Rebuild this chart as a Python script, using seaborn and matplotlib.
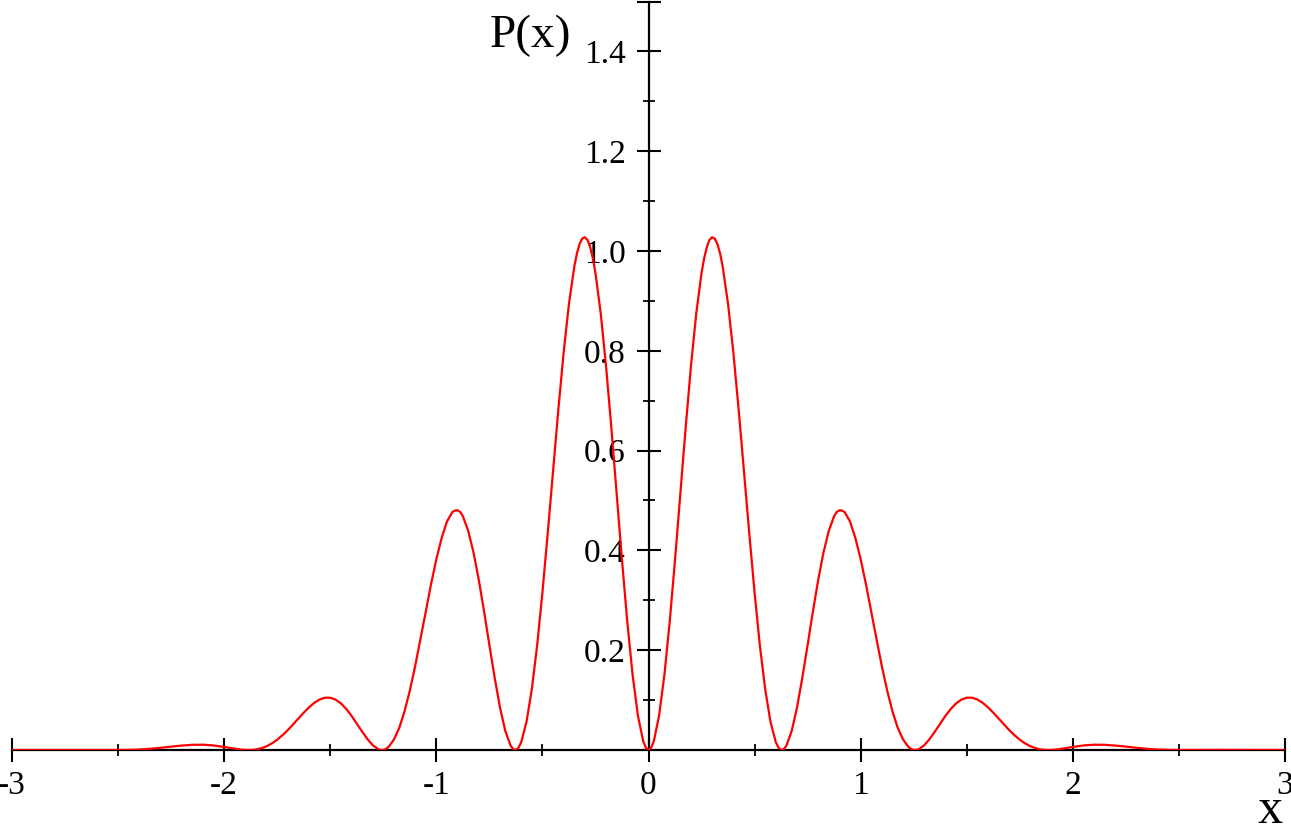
import numpy as np
import pandas as pd
import matplotlib
matplotlib.use('Agg')
from matplotlib import pyplot as plt
from matplotlib.ticker import MultipleLocator, FixedLocator
import seaborn as sns

# curve, right half (the curve is symmetric about x = 0)
x_half = [0.0, 0.0125, 0.025, 0.05, 0.075, 0.1, 0.125, 0.15, 0.175, 0.2, 0.225,
          0.25, 0.2625, 0.275, 0.2875, 0.3, 0.3125, 0.325, 0.3375, 0.35, 0.375,
          0.4, 0.425, 0.45, 0.475,
          0.5, 0.525, 0.55, 0.575, 0.6, 0.6125, 0.625, 0.6375, 0.65, 0.675, 0.7, 0.725,
          0.75, 0.775, 0.8, 0.825, 0.85, 0.875, 0.8875, 0.9, 0.9125, 0.925, 0.95, 0.975,
          1.0, 1.025, 1.05, 1.075, 1.1, 1.125, 1.15, 1.175, 1.2, 1.225,
          1.2375, 1.25, 1.2625, 1.275, 1.3, 1.325, 1.35, 1.375, 1.4, 1.425, 1.45, 1.475,
          1.5, 1.525, 1.55, 1.575, 1.6, 1.625, 1.65, 1.675, 1.7, 1.725,
          1.75, 1.775, 1.8, 1.825, 1.85, 1.875, 1.9, 1.925, 1.95, 1.975,
          2.0, 2.05, 2.1, 2.15, 2.2, 2.25, 2.3, 2.35, 2.4, 2.45,
          2.5, 2.6, 2.7, 2.8, 2.9, 3.0]
p_half = [0.0, 0.0044, 0.0176, 0.0690, 0.1508, 0.2571, 0.3808, 0.5133, 0.6456, 0.7688, 0.8745,
          0.9560, 0.9858, 1.0081, 1.0223, 1.0276, 1.0248, 1.0137, 0.9950, 0.9681, 0.8937,
          0.7962, 0.6819, 0.5587, 0.4342,
          0.3152, 0.2091, 0.1217, 0.0564, 0.0157, 0.0048, 0.0002, 0.0016, 0.0087, 0.0382, 0.0852, 0.1448,
          0.2104, 0.2779, 0.3413, 0.3962, 0.4395, 0.4686, 0.4771, 0.4803, 0.4799, 0.4766, 0.4577, 0.4248,
          0.3822, 0.3321, 0.2768, 0.2217, 0.1677, 0.1189, 0.0772, 0.0440, 0.0209, 0.0062,
          0.0022, 0.0003, 0.0002, 0.0019, 0.0097, 0.0220, 0.0370, 0.0529, 0.0687, 0.0825, 0.0935, 0.1010,
          0.1048, 0.1048, 0.1012, 0.0946, 0.0855, 0.0748, 0.0632, 0.0514, 0.0400, 0.0297,
          0.0206, 0.0132, 0.0075, 0.0035, 0.0011, 0.0001, 0.0002, 0.0011, 0.0026, 0.0043,
          0.0061, 0.0091, 0.0106, 0.0104, 0.0089, 0.0068, 0.0044, 0.0024, 0.0010, 0.0003,
          0.0, 0.0002, 0.0002, 0.0001, 0.0, 0.0]

x_ticks = [-3, -2, -1, 0, 1, 2, 3]
y_ticks = [0.2, 0.4, 0.6, 0.8, 1.0, 1.2, 1.4]
y_tick_labels = ['0.2', '0.4', '0.6', '0.8', '1.0', '1.2', '1.4']

# mirror to get the full curve
xs = [-v for v in x_half[::-1]] + x_half[1:]
ps = p_half[::-1] + p_half[1:]
df = pd.DataFrame({'x': xs, 'P': ps})

sns.set_style('white')
plt.rcParams['font.family'] = ['Liberation Serif', 'DejaVu Serif']
plt.rcParams['text.color'] = 'black'

fig = plt.figure(figsize=(12.91, 8.35), dpi=100)
ax = fig.add_axes([12 / 1291, 85 / 835, 1273 / 1291, 748.5 / 835])

sns.lineplot(data=df, x='x', y='P', color='#ff0000', linewidth=1.6, ax=ax,
             zorder=3, sort=False)

ax.set_xlim(-3, 3)
ax.set_ylim(0, 1.5)

for side in ['top', 'right']:
    ax.spines[side].set_visible(False)
ax.spines['left'].set_position(('data', 0))
ax.spines['bottom'].set_position(('data', 0))
for side in ['left', 'bottom']:
    ax.spines[side].set_linewidth(1.6)
    ax.spines[side].set_color('black')
    ax.spines[side].set_zorder(2)

ax.xaxis.set_major_locator(FixedLocator(x_ticks))
ax.xaxis.set_minor_locator(MultipleLocator(0.5))
ax.yaxis.set_major_locator(FixedLocator(y_ticks + [1.5]))
ax.yaxis.set_minor_locator(MultipleLocator(0.1))
ax.set_xticklabels([str(t) for t in x_ticks])
ax.set_yticklabels(y_tick_labels + [''])

ax.tick_params(which='both', bottom=True, left=True, top=False, right=False)
ax.tick_params(which='major', direction='inout', length=17, width=1.5,
               labelsize=24, colors='black', labelcolor='black')
ax.tick_params(which='minor', direction='inout', length=8.5, width=1.3,
               colors='black')
ax.tick_params(axis='y', which='major', pad=8)
ax.tick_params(axis='x', which='major', pad=6)
ax.set_xlabel('')
ax.set_ylabel('')
ax.grid(False)

fig.text(530 / 1291, 1 - 47 / 835, 'P(x)', fontsize=34, ha='center',
         va='baseline', color='black')
fig.text(1270 / 1291, 1 / 835, 'x', fontsize=36, ha='center',
         va='bottom', color='black')

fig.savefig('out.png', dpi=100)
